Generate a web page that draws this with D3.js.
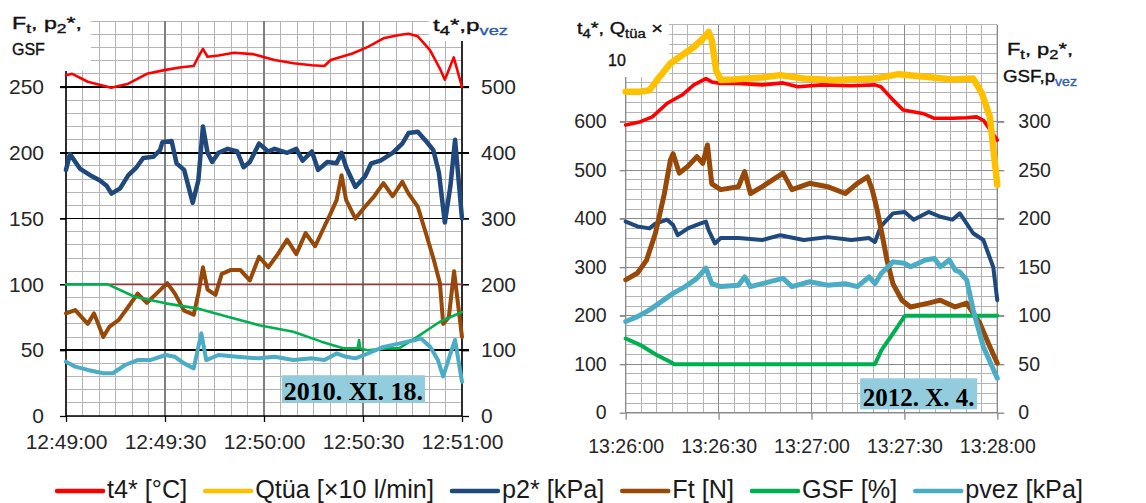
<html>
<head>
<script src="https://d3js.org/d3.v7.min.js"></script>
<style>
body { margin: 0; background: #fff; }
</style>
</head>
<body>
<script>
// ---- data (time in seconds from the first tick) ----
var tickSeconds = [0, 30, 60, 90, 120];
var leftTimeLabels = ["12:49:00", "12:49:30", "12:50:00", "12:50:30", "12:51:00"];
var rightTimeLabels = ["13:26:00", "13:26:30", "13:27:00", "13:27:30", "13:28:00"];
var leftTicksA = [0, 50, 100, 150, 200, 250];
var leftTicksB = [0, 100, 200, 300, 400, 500];
var rightTicksA = [0, 100, 200, 300, 400, 500, 600];
var rightTicksB = [0, 50, 100, 150, 200, 250, 300];

// 2010. XI. 18.  (t4, pvez on the right axis; p2, Ft, GSF on the left axis)
var L_t4 = [[0,518],[1.9,520],[6.6,508],[13.7,499],[18.9,505],[24.5,520],[30.2,526],[34.9,530],[38.7,532],[40.1,546],[41.5,558],[42.9,546],[46.2,548],[50.9,552],[56.6,550],[63.2,541],[68.9,536],[74.5,533],[78.3,532],[80.2,541],[86.8,551],[91.5,561],[96.2,574],[100.9,579],[103.8,581],[106.6,577],[110.3,556],[113.3,528],[114.8,511],[117.5,545],[120,500]];
var L_p2 = [[0,187],[1.2,199],[4.2,188],[7.3,183],[10.3,179],[12.3,175],[13.8,169],[16.4,173],[18.9,183],[21.4,189],[23.4,196],[26.5,197],[28.5,202],[29.2,208],[32,209],[33.5,192],[35.8,187],[38.4,162],[40.1,179],[41.5,220],[42.9,200],[44.3,193],[46.2,200],[49,203],[51.9,201],[53.8,189],[55.7,193],[58.5,207],[61.3,201],[63.2,203],[67,200],[69.8,203],[71.7,194],[74.5,201],[76.4,187],[79.2,193],[82,192],[83.5,200],[84.9,189],[87.7,174],[90.6,182],[92.5,192],[95.3,194],[99,200],[101.9,207],[103.8,215],[106.6,216],[109.4,208],[111.3,202],[113,185],[114.8,147],[116.5,175],[117.9,210],[120,150]];
var L_ft = [[0,78],[2.8,80.5],[6.6,70],[8.5,78],[11.3,60],[13.2,68],[16,73],[18.9,83],[21.7,93],[24.5,86],[27.4,93],[30.7,101],[33,93],[35.8,80],[38.7,77],[40.1,93],[41.5,113],[42.9,96],[45.3,92],[47.2,108],[50,111],[52.8,111],[55.7,103],[58.5,121],[61.3,113],[64.2,123],[67,134],[69.8,123],[72.6,139],[75.5,129],[78.3,144],[80.2,154],[82,164],[83.5,183],[84.9,164],[87.7,150],[90.6,159],[93.4,167],[96.2,177],[99,167],[101.9,178],[103.8,169],[106.6,159],[109.4,136],[111.3,120],[113.3,101],[114.3,70],[116,75],[117.6,110],[120,60]];
var L_gsf = [[0,100],[12.7,100],[20.8,90.6],[30.2,85.6],[39.6,81.8],[49,75.4],[58.5,69],[68.9,64],[77.4,56.5],[84,51.4],[88.4,51.4],[88.8,57.7],[89.2,51],[91.5,50],[97.2,51.4],[100.9,51.4],[106.3,60],[113.3,71.6],[120,79]];
var L_pvez = [[0,82.5],[2.8,75],[6.6,70],[11.3,65],[14.2,65],[17.9,77.5],[21.7,85],[25.5,85],[30.2,92.7],[33,90],[35.8,80],[38.7,72.4],[41,125.6],[42.5,85],[46.2,92.7],[51.9,90],[58.5,87.6],[63.2,90],[68.9,85],[74.5,87.6],[78.3,85],[82,95],[84.9,90],[87.7,87.6],[91.5,95],[96.2,105],[100.9,110],[105.7,115.4],[107.5,118],[110.4,105],[112.7,85],[114.3,60],[116.5,95],[117.9,115.5],[120,52]];
var L_ref = [[0,100],[120,100]];

// 2012. X. 4.  (t4, Qtüa on the left axis; p2, Ft, GSF, pvez on the right axis)
var R_t4 = [[0,593],[4.8,600],[8.6,610],[13.4,638],[18.2,655],[22,676],[25.9,689],[27.8,682],[30.7,679],[36.4,679],[44.1,676],[50.8,680],[55.6,672],[63.3,676],[72.9,674],[80.5,676],[82.4,672],[86.3,645],[89.6,624],[95.9,617],[99.7,607],[105.5,607],[110,608],[113.3,610],[115.5,603],[120,562]];
var R_q = [[0,662],[4.8,662],[7.7,665],[10.5,689],[14.4,720],[18.2,737],[22,754],[24.9,771],[26.8,785],[27.8,768],[29.2,706],[30.7,686],[34.5,687],[44.1,691],[49.9,696],[57.5,689],[67.1,686],[80.5,689],[88.2,698],[95.9,693],[105.5,687],[112.2,689],[115,659],[117.6,610],[120,470]];
var R_p2 = [[0,197],[3.8,192],[7.7,190],[9.6,195],[13.4,199],[15.3,193.5],[16.8,183],[20.1,190],[24,195],[25.9,197],[26.8,188],[28.8,174.5],[30.7,180],[36.4,180],[44.1,178],[49.9,183],[57.5,178],[65.2,181],[72.9,178],[78.6,180],[80.5,176],[82.4,192],[86.3,205.5],[90.1,207],[93,199],[97.8,207],[101.6,202],[105.5,199],[107.9,205.5],[112.2,185],[115.5,178],[118.7,150],[120,116]];
var R_ft = [[0,137],[3.8,144],[6.7,157],[9.6,185],[12.5,226],[14.4,260],[15.3,267],[17.3,247],[20.1,254],[23,264],[24.9,257],[26.4,276],[27.8,236],[30.7,230],[36.4,233],[38.4,248.5],[40.3,226],[44.1,233],[50.8,247],[53.7,230],[59.4,236.5],[65.2,233],[70.9,226],[74.8,236.5],[78.1,243],[79.6,230],[81,212],[82.5,188.5],[84.4,157],[86.3,133],[89.2,116],[92,109],[97.8,113],[101.6,116],[106.4,109],[110.1,113],[114.4,92],[117.6,68],[120,51]];
var R_gsf = [[0,76.5],[4.6,70],[10,59.5],[14.3,52.5],[15.7,50],[80.5,50],[82.6,64.5],[86.4,82],[90.2,100],[120,100]];
var R_pvez = [[0,94],[3.8,99],[7.7,106],[11.5,114.5],[15.3,123],[19.2,130],[23,138.5],[25.9,149],[27.8,133],[30.7,130],[36.4,131.5],[38.4,140],[40.3,130],[44.1,133],[50.8,138.5],[53.7,130],[59.4,135],[65.2,131.5],[70.9,133],[74.8,130],[78.6,140],[80.5,133],[82.5,143.5],[86.3,155.5],[90.1,154],[92,150.5],[96.8,157.5],[99.7,159],[101.6,150.5],[104.5,157.5],[106.4,147],[107.9,145],[110.1,137],[112.2,106],[115.5,68],[120,35.5]];

var legendNames = ["t4* [°C]", "Qtüa [×10 l/min]", "p2* [kPa]", "Ft [N]", "GSF [%]", "pvez [kPa]"];

var colors = {
    t4: "#ff0000", q: "#ffc000", p2: "#1f497d", ft: "#984807",
    gsf: "#00b050", pvez: "#4bacc6", ref: "#953735"
};
var legendColors = [colors.t4, colors.q, colors.p2, colors.ft, colors.gsf, colors.pvez];

var svg = d3.select("body").append("svg")
    .attr("width", 1146)
    .attr("height", 503)
    .style("font-family", "'Liberation Sans', Arial, sans-serif");

svg.append("rect").attr("width", 1146).attr("height", 503).attr("fill", "#fff");

function drawPanel(p) {
    var x = d3.scaleLinear().domain([0, 120]).range(p.xr);
    var y = d3.scaleLinear().domain([0, p.yMax]).range(p.yr);
    var y2 = d3.scaleLinear().domain([0, p.yMax * p.k]).range(p.yr);
    var g = svg.append("g");

    // minor grid
    var grid = g.append("g").attr("shape-rendering", "crispEdges");
    grid.selectAll("line.h").data(d3.range(0, p.yMax + 1, p.yMinor)).join("line")
        .attr("x1", p.xr[0]).attr("x2", p.xr[1])
        .attr("y1", d => y(d)).attr("y2", d => y(d))
        .attr("stroke", "#b4b4b4").attr("stroke-width", 1);
    grid.selectAll("line.v").data(d3.range(0, 121, 5)).join("line")
        .attr("x1", d => x(d)).attr("x2", d => x(d))
        .attr("y1", y(0)).attr("y2", y(p.yMax))
        .attr("stroke", d => d % 30 ? "#b4b4b4" : p.majorV)
        .attr("stroke-width", d => d % 30 ? 1 : 1.3);

    // major horizontal lines (with outer tick marks)
    grid.selectAll("line.m").data(p.ticksA.slice(1)).join("line")
        .attr("x1", p.xr[0] - 6).attr("x2", p.xr[1] + 7)
        .attr("y1", d => y(d)).attr("y2", d => y(d))
        .attr("stroke", p.majorH).attr("stroke-width", p.majorHW);

    // axes
    var axL = d3.axisLeft(y).tickValues(p.ticksA).tickSize(6).tickPadding(p.padL);
    var axR = d3.axisRight(y2).tickValues(p.ticksB).tickSize(7).tickPadding(p.padR);
    var axB = d3.axisBottom(x).tickValues(tickSeconds).tickSize(p.tickB).tickPadding(p.padB)
        .tickFormat((d, i) => p.timeLabels[i]);
    [[axL, p.xr[0], 0], [axR, p.xr[1], 0], [axB, 0, y(0)]].forEach(function (a) {
        var ag = g.append("g").attr("transform", "translate(" + a[1] + "," + a[2] + ")").call(a[0]);
        ag.select(".domain").remove();
        ag.selectAll("line").attr("stroke", p.axisColor).attr("stroke-width", 1.3);
        ag.selectAll("text").attr("fill", "#262626").style("font-size", p.font + "px")
            .style("font-family", "'Liberation Sans', Arial, sans-serif");
    });
    g.append("line").attr("x1", p.xr[0]).attr("x2", p.xr[0]).attr("y1", y(0)).attr("y2", y(p.yMax))
        .attr("stroke", p.axisColor).attr("stroke-width", 1.3);
    g.append("line").attr("x1", p.xr[1]).attr("x2", p.xr[1]).attr("y1", y(0)).attr("y2", y(p.yMax))
        .attr("stroke", p.axisColor).attr("stroke-width", 1.3);
    g.append("line").attr("x1", p.xr[0]).attr("x2", p.xr[1]).attr("y1", y(0)).attr("y2", y(0))
        .attr("stroke", p.axisColor).attr("stroke-width", 1.5);

    // title boxes hide the grid corners
    p.boxes.forEach(function (b) {
        g.append("rect").attr("x", b[0]).attr("y", b[1]).attr("width", b[2]).attr("height", b[3]).attr("fill", "#fff");
    });

    // series
    var line = d3.line().x(d => x(d[0]));
    p.series.forEach(function (s) {
        var sc = s.axis === 2 ? y2 : y;
        g.append("path").datum(s.data)
            .attr("d", line.y(d => sc(d[1])))
            .attr("fill", "none")
            .attr("stroke", s.color)
            .attr("stroke-width", s.w)
            .attr("stroke-linejoin", "round")
            .attr("stroke-linecap", "round");
    });

    // date label
    var a = p.note;
    g.append("rect")
        .attr("x", x(a.t0)).attr("y", y(a.v1))
        .attr("width", x(a.t1) - x(a.t0)).attr("height", y(a.v0) - y(a.v1))
        .attr("fill", "#93cddd");
    g.append("text")
        .attr("x", (x(a.t0) + x(a.t1)) / 2).attr("y", y(a.v0) - 3)
        .attr("text-anchor", "middle")
        .style("font-family", "'Liberation Serif', 'Times New Roman', serif")
        .style("font-weight", "bold").style("font-size", a.size + "px")
        .attr("fill", "#000")
        .text(a.text);
    return g;
}

var left = drawPanel({
    xr: [66, 462], yr: [416, 21.2], yMax: 300, k: 2, yMinor: 10,
    majorV: "#7f7f7f", majorH: "#000", majorHW: 1.5, axisColor: "#000",
    ticksA: leftTicksA, ticksB: leftTicksB, padL: 16, padR: 12, tickB: 6, padB: 12,
    timeLabels: leftTimeLabels, font: 21,
    boxes: [[0, 0, 91, 71], [429, 0, 131, 41]],
    series: [
        {data: L_t4, axis: 2, color: colors.t4, w: 2.6},
        {data: L_p2, axis: 1, color: colors.p2, w: 4.5},
        {data: L_ft, axis: 1, color: colors.ft, w: 4},
        {data: L_ref, axis: 1, color: colors.ref, w: 1.6},
        {data: L_gsf, axis: 1, color: colors.gsf, w: 2.6},
        {data: L_pvez, axis: 2, color: colors.pvez, w: 4}
    ],
    note: {t0: 65.4, t1: 108.8, v0: 10, v1: 31, text: "2010. XI. 18.", size: 26}
});

var right = drawPanel({
    xr: [625.7, 997.3], yr: [412.7, 24.7], yMax: 800, k: 0.5, yMinor: 20,
    majorV: "#8a8a8a", majorH: "#8a8a8a", majorHW: 1.2, axisColor: "#8a8a8a",
    ticksA: rightTicksA, ticksB: rightTicksB, padL: 13, padR: 14, tickB: 7, padB: 19,
    timeLabels: rightTimeLabels, font: 19.5,
    boxes: [[562, 0, 107, 77]],
    series: [
        {data: R_t4, axis: 1, color: colors.t4, w: 3.6},
        {data: R_q, axis: 1, color: colors.q, w: 6.5},
        {data: R_p2, axis: 2, color: colors.p2, w: 4},
        {data: R_ft, axis: 2, color: colors.ft, w: 5},
        {data: R_gsf, axis: 2, color: colors.gsf, w: 4},
        {data: R_pvez, axis: 2, color: colors.pvez, w: 5}
    ],
    note: {t0: 75.7, t1: 113.5, v0: 7, v1: 71, text: "2012. X. 4.", size: 25}
});

// axis titles with subscripts, stretched to the widths they take in the original
function title(x, y, width, parts) {
    var t = svg.append("text").attr("x", x).attr("y", y)
        .style("font-size", "16px").attr("fill", "#111")
        .attr("stroke", "#111").attr("stroke-width", 0.35);
    var shift = 0;
    parts.forEach(function (p) {
        var sub = p[1] !== "n";
        var dy = (sub ? 4 : 0) - shift;
        shift = sub ? 4 : 0;
        var c = p[1] === "b" ? "#2f5cab" : "#111";
        t.append("tspan").attr("dy", dy)
            .style("font-size", sub ? "12px" : "16px")
            .attr("fill", c).attr("stroke", c)
            .text(p[0]);
    });
    if (width) t.attr("textLength", width).attr("lengthAdjust", "spacingAndGlyphs");
}
title(12, 29, 70, [["F", "n"], ["t", "s"], [", p", "n"], ["2", "s"], ["*,", "n"]]);
title(12, 55, 0, [["GSF", "n"]]);
title(433, 31, 75, [["t", "n"], ["4", "s"], ["*,p", "n"], ["vez", "b"]]);
title(577, 34, 86, [["t", "n"], ["4", "s"], ["*, Q", "n"], ["tüa", "s"], [" ×", "n"]]);
title(608, 66, 0, [["10", "n"]]);
title(1007, 55, 66, [["F", "n"], ["t", "s"], [", p", "n"], ["2", "s"], ["*,", "n"]]);
title(1003, 82, 74, [["GSF,p", "n"], ["vez", "b"]]);

// legend
var lg = svg.append("g").style("font-family", "'Liberation Sans Narrow', 'Arial Narrow', 'Liberation Sans', sans-serif");
var texts = legendNames.map(function (n) {
    return lg.append("text").attr("y", 498).style("font-size", "26px").attr("fill", "#1a1a1a").text(n);
});
var natural = texts.map(t => t.node().getComputedTextLength());
var scale = 636 / d3.sum(natural);
var lx = 57;
texts.forEach(function (t, i) {
    lg.append("line").attr("x1", lx).attr("x2", lx + 46).attr("y1", 491).attr("y2", 491)
        .attr("stroke", legendColors[i]).attr("stroke-width", 4.5).attr("stroke-linecap", "round");
    var w = natural[i] * scale;
    t.attr("x", lx + 50).attr("textLength", w).attr("lengthAdjust", "spacingAndGlyphs");
    lx += 50 + w + 18;
});
</script>
</body>
</html>
